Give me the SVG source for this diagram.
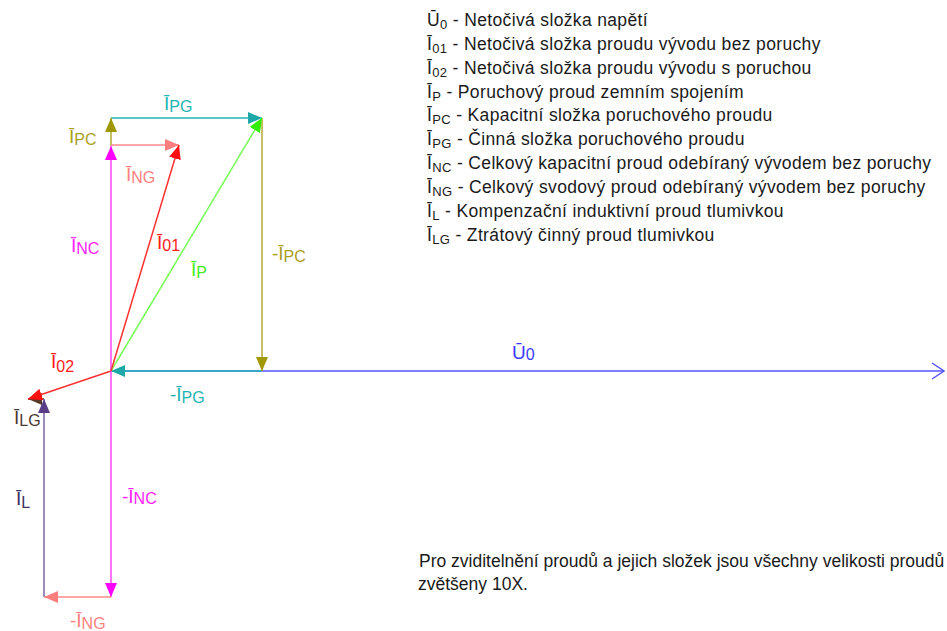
<svg xmlns="http://www.w3.org/2000/svg" width="947" height="631" viewBox="0 0 947 631">
<style>
text{font-family:"Liberation Sans",Arial,sans-serif}
.lbl{font-size:19px}
.sub{font-size:16px}
.leg{font-size:17.5px;letter-spacing:0.35px;fill:#1a1a1a}
.note{font-size:17.5px;fill:#1a1a1a}
.lsub{font-size:13px}
.v{stroke-width:1.5;fill:none}
</style>
<defs>
<marker id="m-cyan" markerUnits="userSpaceOnUse" markerWidth="14" markerHeight="12" refX="14" refY="6" orient="auto"><path d="M0,0L14,6L0,12z" fill="#1fa8a8"/></marker>
<marker id="m-olive" markerUnits="userSpaceOnUse" markerWidth="14" markerHeight="12" refX="14" refY="6" orient="auto"><path d="M0,0L14,6L0,12z" fill="#a09800"/></marker>
<marker id="m-mag" markerUnits="userSpaceOnUse" markerWidth="14" markerHeight="12" refX="14" refY="6" orient="auto"><path d="M0,0L14,6L0,12z" fill="#ff00ff"/></marker>
<marker id="m-salmon" markerUnits="userSpaceOnUse" markerWidth="14" markerHeight="12" refX="14" refY="6" orient="auto"><path d="M0,0L14,6L0,12z" fill="#ff7d7d"/></marker>
<marker id="m-red" markerUnits="userSpaceOnUse" markerWidth="14" markerHeight="12" refX="14" refY="6" orient="auto"><path d="M0,0L14,6L0,12z" fill="#ff1010"/></marker>
<marker id="m-green" markerUnits="userSpaceOnUse" markerWidth="14" markerHeight="12" refX="14" refY="6" orient="auto"><path d="M0,0L14,6L0,12z" fill="#33ee00"/></marker>
<marker id="m-purple" markerUnits="userSpaceOnUse" markerWidth="14" markerHeight="12" refX="14" refY="6" orient="auto"><path d="M0,0L14,6L0,12z" fill="#5a3e88"/></marker>
<marker id="m-brown" markerUnits="userSpaceOnUse" markerWidth="14" markerHeight="12" refX="14" refY="6" orient="auto"><path d="M0,0L14,6L0,12z" fill="#5a3a28"/></marker>
<marker id="m-blue" markerUnits="userSpaceOnUse" markerWidth="14" markerHeight="18" refX="13" refY="9" orient="auto"><path d="M1,1L13,9L1,17" fill="none" stroke="#5555ff" stroke-width="1.5"/></marker>
</defs>
<g id="connectors">
<g id="U0"><line class="v" x1="111" y1="371" x2="944" y2="371" stroke="#5555ff" marker-end="url(#m-blue)"/>
<text class="lbl" x="512" y="359" fill="#3a3aff">Ū<tspan class="sub" dy="1">0</tspan></text></g>
<g id="minus-IPG"><line class="v" x1="262" y1="371" x2="111" y2="371" stroke="#22b4b4" marker-end="url(#m-cyan)"/>
<text class="lbl" x="170" y="401" fill="#22b4b4">-Ī<tspan class="sub" dy="2">PG</tspan></text></g>
<g id="minus-IPC"><line class="v" x1="262" y1="118" x2="262" y2="371" stroke="#b0a830" marker-end="url(#m-olive)"/>
<text class="lbl" x="272" y="260" fill="#aaa020">-Ī<tspan class="sub" dy="2">PC</tspan></text></g>
<g id="IPG"><line class="v" x1="111" y1="118" x2="262" y2="118" stroke="#22b4b4" marker-end="url(#m-cyan)"/>
<text class="lbl" x="164" y="110" fill="#22b4b4">Ī<tspan class="sub" dy="2">PG</tspan></text></g>
<g id="IPC"><line class="v" x1="111" y1="146" x2="111" y2="118" stroke="#b0a830" marker-end="url(#m-olive)"/>
<text class="lbl" x="69" y="143" fill="#aaa020">Ī<tspan class="sub" dy="2">PC</tspan></text></g>
<g id="INC"><line class="v" x1="111" y1="371" x2="111" y2="146" stroke="#ff44ff" marker-end="url(#m-mag)"/>
<text class="lbl" x="71" y="252" fill="#ff22ff">Ī<tspan class="sub" dy="2">NC</tspan></text></g>
<g id="ING"><line class="v" x1="111" y1="145" x2="179" y2="145" stroke="#ff8888" marker-end="url(#m-salmon)"/>
<text class="lbl" x="126" y="181" fill="#ff8080">Ī<tspan class="sub" dy="2">NG</tspan></text></g>
<g id="IP"><line class="v" x1="111" y1="371" x2="262" y2="118" stroke="#77ff55" marker-end="url(#m-green)"/>
<text class="lbl" x="191" y="276" fill="#44ee22">Ī<tspan class="sub" dy="2">P</tspan></text></g>
<g id="I01"><line class="v" x1="111" y1="371" x2="179" y2="145" stroke="#ff3030" marker-end="url(#m-red)"/>
<text class="lbl" x="157" y="249" fill="#ff1a1a">Ī<tspan class="sub" dy="2">01</tspan></text></g>
<g id="ILG"><line class="v" x1="44" y1="399" x2="28" y2="399" stroke="#5a3a28" marker-end="url(#m-brown)"/>
<text class="lbl" x="14" y="424" fill="#4a3a30">Ī<tspan class="sub" dy="2">LG</tspan></text></g>
<g id="I02"><line class="v" x1="111" y1="371" x2="28" y2="399" stroke="#ff3030" marker-end="url(#m-red)"/>
<text class="lbl" x="51" y="368" fill="#ff1a1a">Ī<tspan class="sub" dy="4">02</tspan></text></g>
<g id="IL"><line class="v" x1="44" y1="597" x2="44" y2="399" stroke="#7a64a0" marker-end="url(#m-purple)"/>
<text class="lbl" x="16" y="505" fill="#3c3060">Ī<tspan class="sub" dy="3">L</tspan></text></g>
<g id="minus-INC"><line class="v" x1="111" y1="371" x2="111" y2="597" stroke="#ff44ff" marker-end="url(#m-mag)"/>
<text class="lbl" x="122" y="503" fill="#ff22ff">-Ī<tspan class="sub" dy="1">NC</tspan></text></g>
<g id="minus-ING"><line class="v" x1="111" y1="597" x2="44" y2="597" stroke="#ff8888" marker-end="url(#m-salmon)"/>
<text class="lbl" x="70" y="627" fill="#ff8080">-Ī<tspan class="sub" dy="2">NG</tspan></text></g>
</g>
<g id="legend">
<text class="leg" x="427" y="26">Ū<tspan class="lsub" dy="3">0</tspan><tspan dy="-3"> - Netočivá složka napětí</tspan></text>
<text class="leg" x="427" y="50">Ī<tspan class="lsub" dy="3">01</tspan><tspan dy="-3"> - Netočivá složka proudu vývodu bez poruchy</tspan></text>
<text class="leg" x="427" y="74">Ī<tspan class="lsub" dy="3">02</tspan><tspan dy="-3"> - Netočivá složka proudu vývodu s poruchou</tspan></text>
<text class="leg" x="427" y="98">Ī<tspan class="lsub" dy="3">P</tspan><tspan dy="-3"> - Poruchový proud zemním spojením</tspan></text>
<text class="leg" x="427" y="121">Ī<tspan class="lsub" dy="3">PC</tspan><tspan dy="-3"> - Kapacitní složka poruchového proudu</tspan></text>
<text class="leg" x="427" y="145">Ī<tspan class="lsub" dy="3">PG</tspan><tspan dy="-3"> - Činná složka poruchového proudu</tspan></text>
<text class="leg" x="427" y="169">Ī<tspan class="lsub" dy="3">NC</tspan><tspan dy="-3"> - Celkový kapacitní proud odebíraný vývodem bez poruchy</tspan></text>
<text class="leg" x="427" y="193">Ī<tspan class="lsub" dy="3">NG</tspan><tspan dy="-3"> - Celkový svodový proud odebíraný vývodem bez poruchy</tspan></text>
<text class="leg" x="427" y="217">Ī<tspan class="lsub" dy="3">L</tspan><tspan dy="-3"> - Kompenzační induktivní proud tlumivkou</tspan></text>
<text class="leg" x="427" y="241">Ī<tspan class="lsub" dy="3">LG</tspan><tspan dy="-3"> - Ztrátový činný proud tlumivkou</tspan></text>
</g>
<g id="note">
<text class="note" x="419" y="567">Pro zviditelnění proudů a jejich složek jsou všechny velikosti proudů</text>
<text class="note" x="418" y="590">zvětšeny 10X.</text>
</g>
</svg>
